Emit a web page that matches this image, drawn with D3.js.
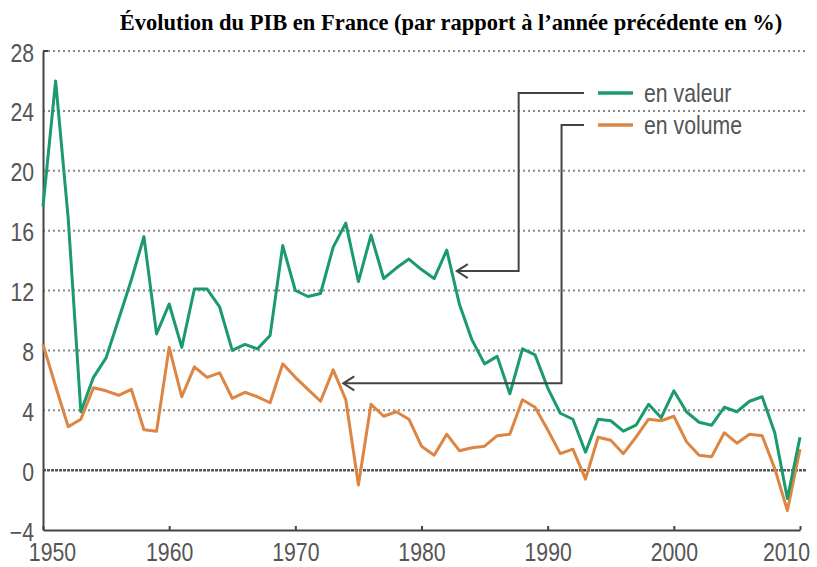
<!DOCTYPE html>
<html lang="fr">
<head>
    <meta charset="UTF-8">
    <title>PIB France</title>
    <script src="https://cdn.jsdelivr.net/npm/d3@7"></script>
</head>
<style>
    body { margin: 0; background: #fff; }
    .narrow { font-family: "Liberation Sans", Arial, sans-serif; }
</style>
<body>
</body>
</html>
<script>

    // années 1950 -> 2010
    var years = d3.range(1950, 2011);

    // en valeur (%)
    var valeur = [17.6, 26.0, 16.8, 3.9, 6.2, 7.5, 10.1, 12.7, 15.6, 9.1,
                  11.1, 8.2, 12.1, 12.1, 10.9, 8.0, 8.4, 8.1, 9.0, 15.0,
                  12.0, 11.6, 11.8, 14.9, 16.5, 12.6, 15.7, 12.8, 13.5, 14.1,
                  13.4, 12.8, 14.7, 11.1, 8.7, 7.1, 7.6, 5.1, 8.1, 7.7,
                  5.5, 3.8, 3.4, 1.2, 3.4, 3.3, 2.6, 3.0, 4.4, 3.5,
                  5.3, 3.9, 3.2, 3.0, 4.2, 3.9, 4.6, 4.9, 2.5, -1.9,
                  2.2];

    // en volume (%)
    var volume = [8.4, 5.6, 2.9, 3.4, 5.5, 5.3, 5.0, 5.4, 2.7, 2.6,
                  8.2, 4.9, 6.9, 6.2, 6.5, 4.8, 5.2, 4.9, 4.5, 7.1,
                  6.2, 5.4, 4.6, 6.7, 4.7, -1.0, 4.4, 3.6, 3.9, 3.4,
                  1.6, 1.0, 2.4, 1.3, 1.5, 1.6, 2.3, 2.4, 4.7, 4.2,
                  2.7, 1.1, 1.4, -0.6, 2.2, 2.0, 1.1, 2.2, 3.4, 3.3,
                  3.6, 1.9, 1.0, 0.9, 2.5, 1.8, 2.4, 2.3, 0.1, -2.7,
                  1.4];

    var yTicks = [-4, 0, 4, 8, 12, 16, 20, 24, 28];
    var xTicks = [1950, 1960, 1970, 1980, 1990, 2000, 2010];
    var seriesNames = ["en valeur", "en volume"];
    var colors = ["#1b9a6c", "#dd8644"];

    var w = 817;
    var h = 567;
    var sx = 0.85;   // texte resserré (police étroite)

    var svg = d3.select("body")
            .append("svg")
            .attr("width", w)
            .attr("height", h);

    var x = d3.scaleLinear().domain([1950, 2010]).range([43, 800]);
    var y = d3.scaleLinear().domain([-4, 28]).range([530, 51]);

    // titre
    svg.append("text")
            .attr("x", 451)
            .attr("y", 30)
            .attr("text-anchor", "middle")
            .attr("font-family", "'Liberation Serif', 'Times New Roman', serif")
            .attr("font-weight", "bold")
            .attr("font-size", "22.5px")
            .text("Évolution du PIB en France (par rapport à l’année précédente en %)");

    // grille pointillée
    svg.selectAll("line.grid")
            .data(yTicks.filter(function (d) { return d !== 0 && d !== -4; }))
            .enter()
            .append("line")
            .attr("class", "grid")
            .attr("x1", x(1950))
            .attr("x2", 806)
            .attr("y1", function (d) { return y(d); })
            .attr("y2", function (d) { return y(d); })
            .attr("stroke", "#8a8a8a")
            .attr("stroke-width", 2)
            .attr("stroke-dasharray", "2,3");

    // ligne du zéro
    svg.append("line")
            .attr("x1", x(1950))
            .attr("x2", 806)
            .attr("y1", y(0))
            .attr("y2", y(0))
            .attr("stroke", "#555")
            .attr("stroke-width", 2.5)
            .attr("stroke-dasharray", "3,1");

    // axes
    var yAxis = d3.axisLeft(y).tickValues(yTicks).tickSize(0).tickPadding(9);
    var gy = svg.append("g")
            .attr("transform", "translate(" + x(1950) + ",0)")
            .call(yAxis);
    gy.select(".domain").attr("stroke", "#444").attr("stroke-width", 2);
    gy.selectAll("text")
            .attr("class", "narrow")
            .attr("font-size", "25px")
            .attr("fill", "#555")
            .attr("x", -9 / sx)
            .attr("dy", "0.4em")
            .attr("transform", "scale(" + sx + ",1)");
    gy.attr("font-family", null).attr("font-size", null);

    // petit crochet en haut de l'axe
    svg.append("line")
            .attr("x1", x(1950))
            .attr("x2", x(1950) + 5)
            .attr("y1", y(28))
            .attr("y2", y(28))
            .attr("stroke", "#444")
            .attr("stroke-width", 2);

    var xAxis = d3.axisBottom(x).tickValues(xTicks).tickFormat(d3.format("d"))
            .tickSizeInner(-4).tickSizeOuter(0).tickPadding(13);
    var gx = svg.append("g")
            .attr("transform", "translate(0," + y(-4) + ")")
            .call(xAxis);
    gx.select(".domain").attr("stroke", "#444").attr("stroke-width", 2);
    gx.selectAll(".tick line").attr("stroke", "#444").attr("stroke-width", 2);
    gx.selectAll("text")
            .attr("class", "narrow")
            .attr("font-size", "25px")
            .attr("fill", "#555")
            .attr("transform", "scale(" + sx + ",1)")
            .attr("dx", function (d) {
                if (d === 1950) return 9 / sx;
                if (d === 2010) return -14 / sx;
                return 0;
            });
    gx.attr("font-family", null).attr("font-size", null);

    // courbes
    var line = d3.line()
            .x(function (d, i) { return x(years[i]); })
            .y(function (d) { return y(d); });

    svg.selectAll("path.serie")
            .data([volume, valeur])
            .enter()
            .append("path")
            .attr("class", "serie")
            .attr("d", line)
            .attr("fill", "none")
            .attr("stroke", function (d, i) { return i === 0 ? colors[1] : colors[0]; })
            .attr("stroke-width", 3)
            .attr("stroke-linejoin", "round");

    // légende
    var legendY = [93, 125];
    seriesNames.forEach(function (name, i) {
        svg.append("line")
                .attr("x1", 598).attr("x2", 633)
                .attr("y1", legendY[i]).attr("y2", legendY[i])
                .attr("stroke", colors[i])
                .attr("stroke-width", 3.5);
        svg.append("text")
                .attr("class", "narrow")
                .attr("transform", "translate(644," + legendY[i] + ") scale(" + sx + ",1)")
                .attr("dy", "0.35em")
                .attr("font-size", "25px")
                .attr("fill", "#555")
                .text(name);
    });

    // flèches de renvoi (coude en année, pointe en valeur)
    var arrows = [
        {ly: legendY[0], elbow: 1987.7, tipYear: 1982.8, tipVal: 13.3},
        {ly: legendY[1], elbow: 1991.1, tipYear: 1973.8, tipVal: 5.8}
    ];
    arrows.forEach(function (a) {
        var ex = x(a.elbow), tx = x(a.tipYear), ty = y(a.tipVal);
        svg.append("path")
                .attr("d", "M" + 584 + "," + a.ly + "H" + ex + "V" + ty + "H" + tx)
                .attr("fill", "none")
                .attr("stroke", "#444")
                .attr("stroke-width", 2);
        svg.append("path")
                .attr("d", "M" + (tx + 11) + "," + (ty - 7) + "L" + tx + "," + ty + "L" + (tx + 11) + "," + (ty + 7))
                .attr("fill", "none")
                .attr("stroke", "#444")
                .attr("stroke-width", 2);
    });
</script>
